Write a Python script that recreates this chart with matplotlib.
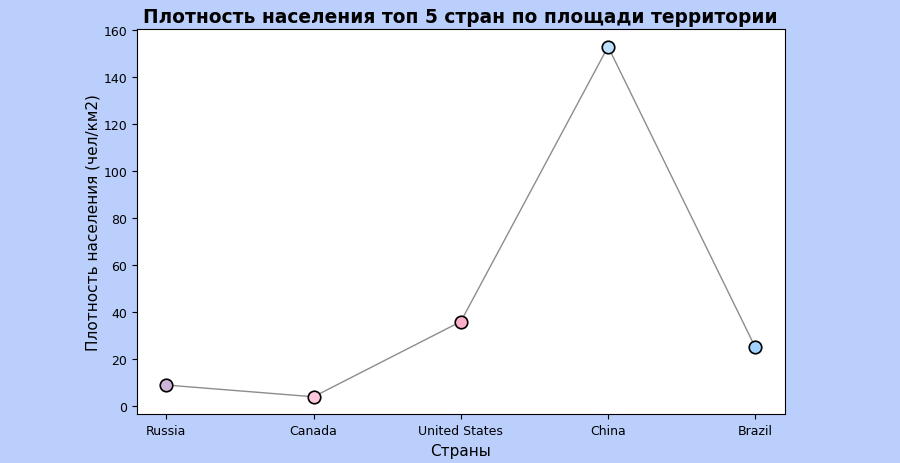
import matplotlib
matplotlib.use("Agg")
import matplotlib.pyplot as plt

countries = ["Russia", "Canada", "United States", "China", "Brazil"]
density = [9, 4, 36, 153, 25]
colors = ["#cdb4db", "#ffc8dd", "#ffafcc", "#bde0fe", "#a2d2ff"]

bg = "#bbcffc"
fig = plt.figure(figsize=(9, 4.64), dpi=100, facecolor=bg)
ax = fig.add_axes([0.152, 0.105, 0.72, 0.83])
x = list(range(len(countries)))
ax.plot(x, density, color="gray", linewidth=1, alpha=0.9, zorder=1)
for xi, yi, c in zip(x, density, colors):
    ax.plot([xi], [yi], marker="o", markersize=9, markerfacecolor=c,
            markeredgecolor="black", markeredgewidth=1.2, linestyle="none", zorder=2)
ax.set_xticks(x)
ax.set_xticklabels(countries, fontsize=9)
ax.tick_params(axis="y", labelsize=9)
ax.set_xlabel("Страны", fontsize=11)
ax.set_ylabel("Плотность населения (чел/км2)", fontsize=11, labelpad=2)
ax.set_title("Плотность населения топ 5 стран по площади территории",
             fontsize=13.4, fontweight="bold", pad=5)
fig.savefig("out.png", dpi=100, facecolor=bg)
